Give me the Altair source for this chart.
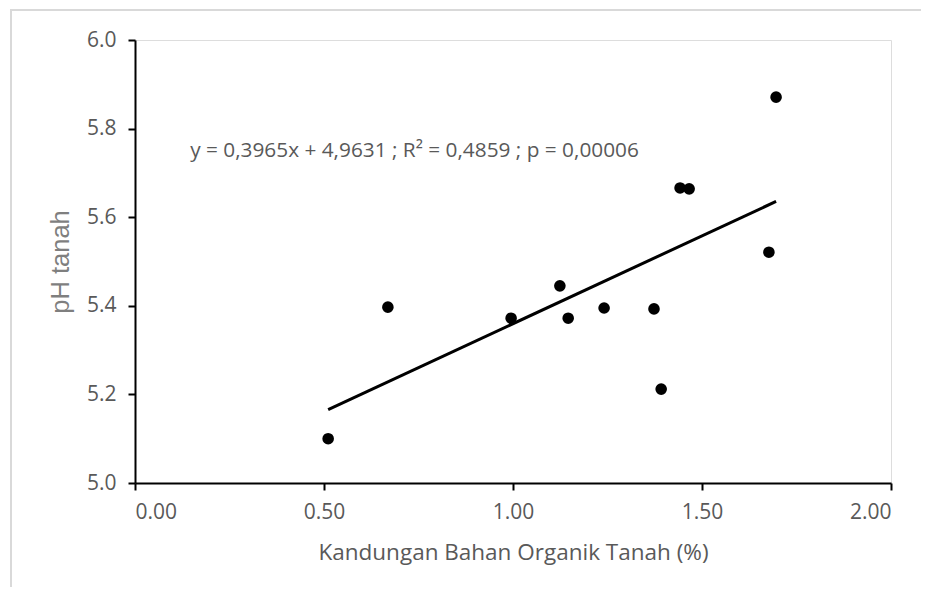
import altair as alt
import pandas as pd

# Data
bahan_organik = [0.511, 0.669, 0.995, 1.124, 1.146, 1.241, 1.373, 1.392, 1.442, 1.466, 1.677, 1.696]
ph_tanah = [5.100, 5.397, 5.372, 5.445, 5.372, 5.395, 5.393, 5.212, 5.666, 5.664, 5.521, 5.871]

# Trendline from the printed equation
slope = 0.3965
intercept = 4.9631
equation_label = ["y = 0,3965x + 4,9631 ; R\u00b2 = 0,4859 ; p = 0,00006"]
label_x = [0.146]
label_y = [5.75]

x_ticks = [0.0, 0.5, 1.0, 1.5, 2.0]
y_ticks = [5.0, 5.2, 5.4, 5.6, 5.8, 6.0]

points = pd.DataFrame({"x": bahan_organik, "y": ph_tanah})
xmin, xmax = min(bahan_organik), max(bahan_organik)
trend = pd.DataFrame({"x": [xmin, xmax], "y": [slope * xmin + intercept, slope * xmax + intercept]})
label_df = pd.DataFrame({"x": label_x, "y": label_y, "t": equation_label})

FONT = "Open Sans"
GREY = "#595959"

x_scale = alt.Scale(domain=[0, 2], nice=False, zero=False)
y_scale = alt.Scale(domain=[5.0, 6.0], nice=False, zero=False)

x_axis = alt.Axis(
    values=x_ticks, format=".2f", grid=False,
    labelFont=FONT, labelFontSize=21, labelColor=GREY, labelPadding=11,
    domainColor="black", domainWidth=2, tickColor="black", tickWidth=2, tickSize=7,
    title="Kandungan Bahan Organik Tanah (%)", titleFont=FONT, titleFontSize=22.5,
    titleFontWeight="normal", titleColor=GREY, titlePadding=19,
)
y_axis = alt.Axis(
    values=y_ticks, format=".1f", grid=False,
    labelFont=FONT, labelFontSize=21, labelColor=GREY, labelPadding=12,
    domainColor="black", domainWidth=2, tickColor="black", tickWidth=2, tickSize=7,
    title="pH tanah", titleFont="Liberation Sans", titleFontSize=25.5,
    titleFontWeight="normal", titleColor="#7f7f7f", titlePadding=13,
)

border = alt.Chart(pd.DataFrame({"a": [0]})).mark_rect(
    fill=None, stroke="#d9d9d9", strokeWidth=2
).encode(
    x=alt.value(-124), x2=alt.value(800), y=alt.value(-30), y2=alt.value(560)
)

pts = alt.Chart(points).mark_circle(size=135, color="black", opacity=1).encode(
    x=alt.X("x:Q", scale=x_scale, axis=x_axis),
    y=alt.Y("y:Q", scale=y_scale, axis=y_axis),
)

line = alt.Chart(trend).mark_line(color="black", strokeWidth=3).encode(
    x=alt.X("x:Q", scale=x_scale),
    y=alt.Y("y:Q", scale=y_scale),
)

txt = alt.Chart(label_df).mark_text(
    align="left", baseline="middle", font=FONT, fontSize=20.8, color=GREY
).encode(
    x=alt.X("x:Q", scale=x_scale),
    y=alt.Y("y:Q", scale=y_scale),
    text="t:N",
)

chart = alt.layer(border, line, pts, txt).properties(
    width=756, height=443,
    autosize=alt.AutoSizeParams(type="none"),
    padding={"left": 127, "top": 32, "right": 30, "bottom": 104},
).configure_view(stroke=None).configure(background="white")

chart.save("out.html", embed_options={"renderer": "svg", "actions": False})
